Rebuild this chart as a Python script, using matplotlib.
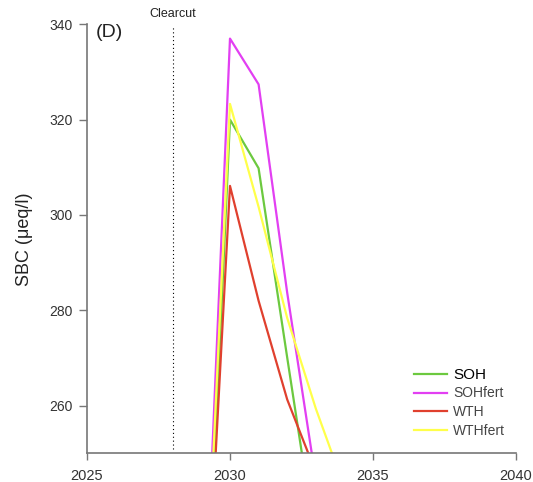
import numpy as np
import matplotlib
matplotlib.use("Agg")
import matplotlib.pyplot as plt

plt.rcParams['font.family'] = ['Liberation Sans', 'DejaVu Sans']

# SBC (ueq/l) per year
years_soh = [2029, 2030, 2031, 2032, 2033]
soh = [187, 320.0, 309.8, 270.1, 231]

years_sohfert = [2029, 2030, 2031, 2032, 2033]
sohfert = [197, 337.0, 327.4, 283.7, 244.5]

years_wth = [2029, 2030, 2031, 2032, 2033]
wth = [194, 306.1, 282.0, 261.3, 246]

years_wthfert = [2029, 2030, 2031, 2032, 2033, 2034]
wthfert = [197, 323.3, 301.7, 278.4, 259.4, 242.8]

series = [
    ("SOH", years_soh, soh, "#6cc93f"),
    ("SOHfert", years_sohfert, sohfert, "#e23ff2"),
    ("WTH", years_wth, wth, "#e0402e"),
    ("WTHfert", years_wthfert, wthfert, "#ffff4a"),
]
clearcut_year = 2028

fig = plt.figure(figsize=(5.33, 4.82), dpi=100)
ax = fig.add_axes([0.1632, 0.0595, 0.8049, 0.8901])

for name, xs, ys, col in series:
    ax.plot(xs, ys, color=col, lw=1.6, label=name)

ax.axvline(clearcut_year, color="black", ls=(0, (1, 2.5)), lw=0.8,
           ymin=0.01, ymax=0.995)
ax.text(clearcut_year, 341.0, "Clearcut", ha="center", va="bottom",
        fontsize=9, color="#222222", clip_on=False)
ax.text(2025.3, 338.3, "(D)", ha="left", va="center", fontsize=14,
        color="#222222")

ax.set_xlim(2025, 2040)
ax.set_ylim(250, 340)
ax.set_xticks([2025, 2030, 2035, 2040])
ax.set_yticks([260, 280, 300, 320, 340])
ax.set_ylabel("SBC (μeq/l)", fontsize=13, color="#222222", labelpad=12)

for side in ["top", "right"]:
    ax.spines[side].set_visible(False)
for side in ["left", "bottom"]:
    ax.spines[side].set_color("#777777")
    ax.spines[side].set_linewidth(1.2)
ax.tick_params(axis="y", length=6, width=1, color="#777777", pad=4,
               labelsize=10, labelcolor="#333333")
ax.tick_params(axis="x", length=5, width=1, color="#777777", pad=6,
               labelsize=10.5, labelcolor="#333333")

leg = ax.legend(loc="lower right", bbox_to_anchor=(1.007, 0.003), frameon=False,
                fontsize=10, handlelength=2.4, handletextpad=0.45,
                labelspacing=0.35, borderaxespad=0.6)
for i, t in enumerate(leg.get_texts()):
    if i == 0:
        t.set_fontsize(11)
        t.set_color("black")
    else:
        t.set_color("#444444")

fig.savefig("out.png", dpi=100)
